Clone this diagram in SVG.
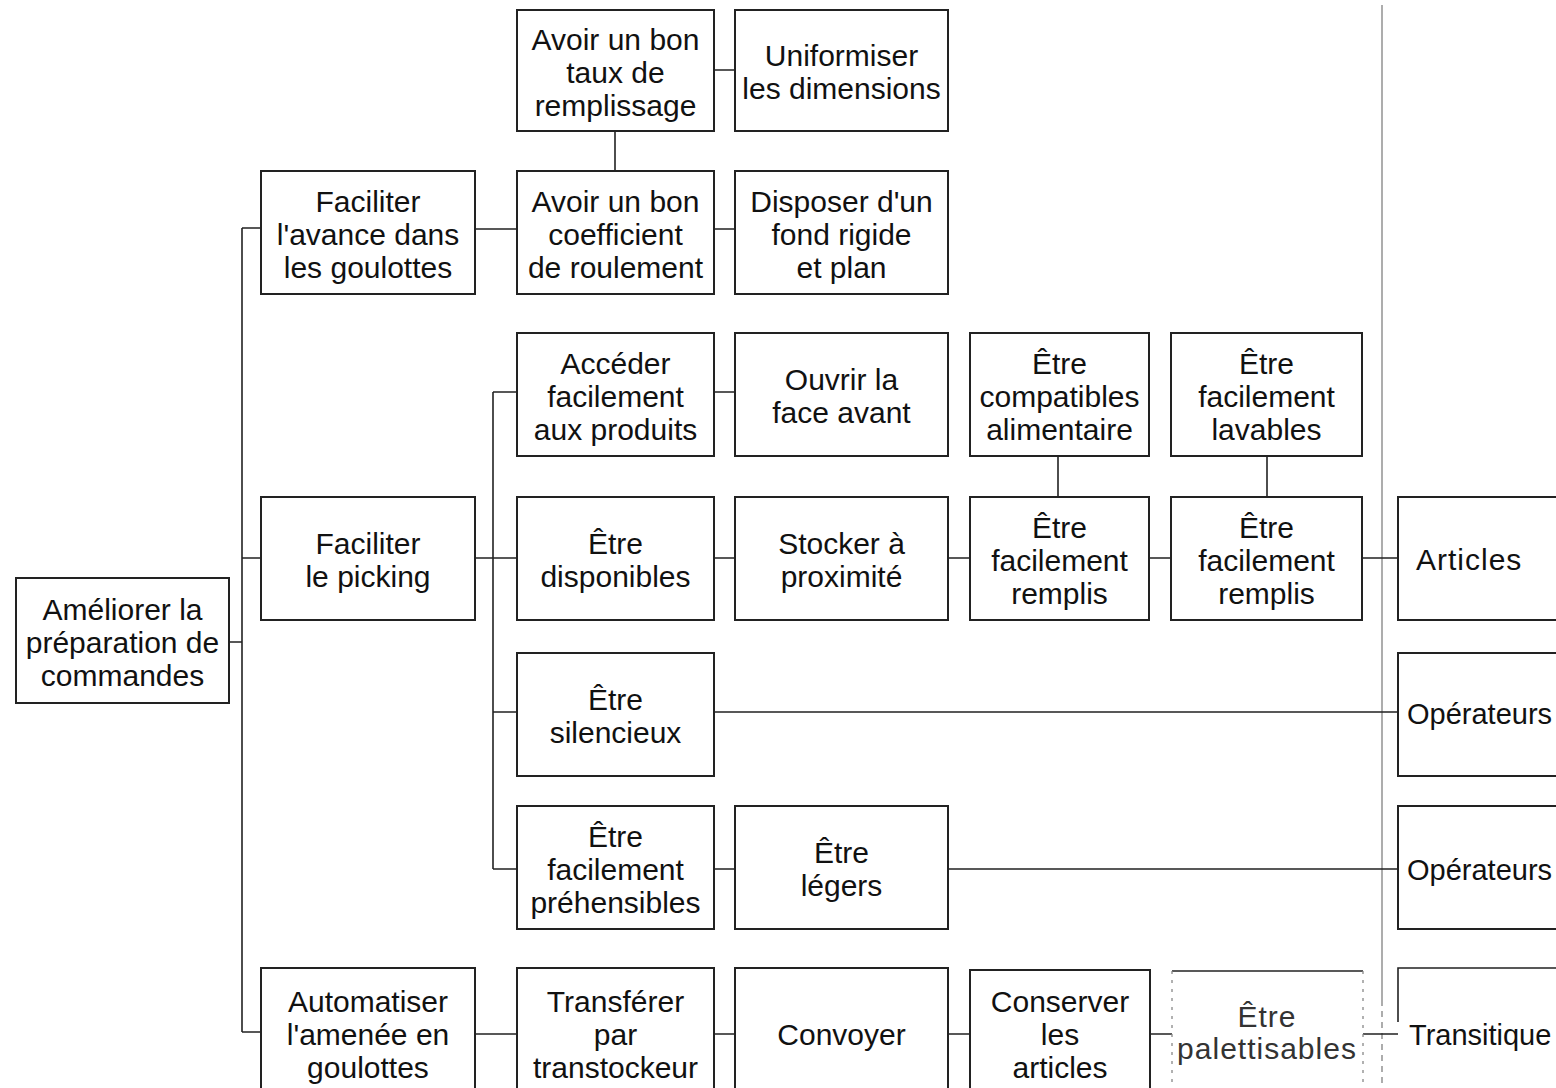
<svg xmlns="http://www.w3.org/2000/svg" width="1556" height="1088" viewBox="0 0 1556 1088">
<style>
  .box { fill: #fff; stroke: #222; stroke-width: 2; }
  .t { font-family: "Liberation Sans", Arial, sans-serif; font-size: 30px; fill: #111; text-anchor: middle; }
  .ts { font-family: "Liberation Sans", Arial, sans-serif; font-size: 30px; fill: #111; text-anchor: start; letter-spacing: 1px; }
  .tn { font-family: "Liberation Sans", Arial, sans-serif; font-size: 29px; fill: #111; text-anchor: start; }
  .c { fill: none; stroke: #222; stroke-width: 1.6; }
  .g { fill: none; stroke: #8a8a8a; stroke-width: 1.4; }
  .gd { fill: none; stroke: #8a8a8a; stroke-width: 1.4; stroke-dasharray: 6 5; }
  .dash { fill: none; stroke: #888; stroke-width: 1.3; stroke-dasharray: 3 6; }
</style>
<rect width="1556" height="1088" fill="#fff"/>

<g id="connectors">
  <path class="g" d="M1382 5 V1000"/>
  <path class="gd" d="M1382 1000 V1088"/>
  <path class="c" d="M229 642 H242 M242 228 V1032 M242 228 H261 M242 558 H261 M242 1032 H261"/>
  <path class="c" d="M475 229 H517 M615 131 V171 M714 70 H735 M714 229 H735"/>
  <path class="c" d="M475 558 H517 M493 392 V869 M493 392 H517 M493 712 H517 M493 869 H517"/>
  <path class="c" d="M714 392 H735 M714 558 H735 M948 558 H970 M1149 558 H1171 M1362 558 H1398"/>
  <path class="c" d="M1058 456 V497 M1267 456 V497"/>
  <path class="c" d="M715 712 H1398 M714 869 H735 M948 869 H1398"/>
  <path class="c" d="M475 1034 H517 M714 1034 H735 M948 1034 H970 M1150 1034 H1172 M1363 1034 H1398"/>
</g>

<g id="n0"><rect class="box" x="16" y="578" width="213" height="125"/>
  <text class="t" x="122.5"><tspan x="122.5" y="620">Améliorer la</tspan><tspan x="122.5" y="653">préparation de</tspan><tspan x="122.5" y="686">commandes</tspan></text></g>

<g id="n1"><rect class="box" x="261" y="171" width="214" height="123"/>
  <text class="t"><tspan x="368" y="211.5">Faciliter</tspan><tspan x="368" y="244.5">l'avance dans</tspan><tspan x="368" y="277.5">les goulottes</tspan></text></g>
<g id="n2"><rect class="box" x="261" y="497" width="214" height="123"/>
  <text class="t"><tspan x="368" y="554">Faciliter</tspan><tspan x="368" y="587">le picking</tspan></text></g>
<g id="n3"><rect class="box" x="261" y="968" width="214" height="128"/>
  <text class="t"><tspan x="368" y="1012">Automatiser</tspan><tspan x="368" y="1045">l'amenée en</tspan><tspan x="368" y="1078">goulottes</tspan></text></g>

<g id="n4"><rect class="box" x="517" y="10" width="197" height="121"/>
  <text class="t"><tspan x="615.5" y="50">Avoir un bon</tspan><tspan x="615.5" y="83">taux de</tspan><tspan x="615.5" y="116">remplissage</tspan></text></g>
<g id="n5"><rect class="box" x="517" y="171" width="197" height="123"/>
  <text class="t"><tspan x="615.5" y="211.5">Avoir un bon</tspan><tspan x="615.5" y="244.5">coefficient</tspan><tspan x="615.5" y="277.5">de roulement</tspan></text></g>
<g id="n6"><rect class="box" x="517" y="333" width="197" height="123"/>
  <text class="t"><tspan x="615.5" y="373.5">Accéder</tspan><tspan x="615.5" y="406.5">facilement</tspan><tspan x="615.5" y="439.5">aux produits</tspan></text></g>
<g id="n7"><rect class="box" x="517" y="497" width="197" height="123"/>
  <text class="t"><tspan x="615.5" y="554">Être</tspan><tspan x="615.5" y="587">disponibles</tspan></text></g>
<g id="n8"><rect class="box" x="517" y="653" width="197" height="123"/>
  <text class="t"><tspan x="615.5" y="710">Être</tspan><tspan x="615.5" y="743">silencieux</tspan></text></g>
<g id="n9"><rect class="box" x="517" y="806" width="197" height="123"/>
  <text class="t"><tspan x="615.5" y="846.5">Être</tspan><tspan x="615.5" y="879.5">facilement</tspan><tspan x="615.5" y="912.5">préhensibles</tspan></text></g>
<g id="n10"><rect class="box" x="517" y="968" width="197" height="128"/>
  <text class="t"><tspan x="615.5" y="1012">Transférer</tspan><tspan x="615.5" y="1045">par</tspan><tspan x="615.5" y="1078">transtockeur</tspan></text></g>

<g id="n11"><rect class="box" x="735" y="10" width="213" height="121"/>
  <text class="t"><tspan x="841.5" y="66">Uniformiser</tspan><tspan x="841.5" y="99">les dimensions</tspan></text></g>
<g id="n12"><rect class="box" x="735" y="171" width="213" height="123"/>
  <text class="t"><tspan x="841.5" y="211.5">Disposer d'un</tspan><tspan x="841.5" y="244.5">fond rigide</tspan><tspan x="841.5" y="277.5">et plan</tspan></text></g>
<g id="n13"><rect class="box" x="735" y="333" width="213" height="123"/>
  <text class="t"><tspan x="841.5" y="390">Ouvrir la</tspan><tspan x="841.5" y="423">face avant</tspan></text></g>
<g id="n14"><rect class="box" x="735" y="497" width="213" height="123"/>
  <text class="t"><tspan x="841.5" y="554">Stocker à</tspan><tspan x="841.5" y="587">proximité</tspan></text></g>
<g id="n15"><rect class="box" x="735" y="806" width="213" height="123"/>
  <text class="t"><tspan x="841.5" y="863">Être</tspan><tspan x="841.5" y="896">légers</tspan></text></g>
<g id="n16"><rect class="box" x="735" y="968" width="213" height="128"/>
  <text class="t"><tspan x="841.5" y="1045">Convoyer</tspan></text></g>

<g id="n17"><rect class="box" x="970" y="333" width="179" height="123"/>
  <text class="t"><tspan x="1059.5" y="373.5">Être</tspan><tspan x="1059.5" y="406.5">compatibles</tspan><tspan x="1059.5" y="439.5">alimentaire</tspan></text></g>
<g id="n18"><rect class="box" x="970" y="497" width="179" height="123"/>
  <text class="t"><tspan x="1059.5" y="537.5">Être</tspan><tspan x="1059.5" y="570.5">facilement</tspan><tspan x="1059.5" y="603.5">remplis</tspan></text></g>
<g id="n19"><rect class="box" x="970" y="970" width="180" height="126"/>
  <text class="t"><tspan x="1060" y="1012">Conserver</tspan><tspan x="1060" y="1045">les</tspan><tspan x="1060" y="1078">articles</tspan></text></g>

<g id="n20"><rect class="box" x="1171" y="333" width="191" height="123"/>
  <text class="t"><tspan x="1266.5" y="373.5">Être</tspan><tspan x="1266.5" y="406.5">facilement</tspan><tspan x="1266.5" y="439.5">lavables</tspan></text></g>
<g id="n21"><rect class="box" x="1171" y="497" width="191" height="123"/>
  <text class="t"><tspan x="1266.5" y="537.5">Être</tspan><tspan x="1266.5" y="570.5">facilement</tspan><tspan x="1266.5" y="603.5">remplis</tspan></text></g>
<g id="n22">
  <path class="c" d="M1172 971 H1363" stroke="#555"/>
  <path class="dash" d="M1172 971 V1088 M1363 971 V1088"/>
  <text class="t" style="letter-spacing:1px;fill:#333"><tspan x="1267" y="1027">Être</tspan><tspan x="1267" y="1059">palettisables</tspan></text></g>

<g id="n23"><rect class="box" x="1398" y="497" width="220" height="123"/>
  <text class="ts"><tspan x="1416" y="570">Articles</tspan></text></g>
<g id="n24"><rect class="box" x="1398" y="653" width="220" height="123"/>
  <text class="tn"><tspan x="1407" y="724">Opérateurs</tspan></text></g>
<g id="n25"><rect class="box" x="1398" y="806" width="220" height="123"/>
  <text class="tn"><tspan x="1407" y="880">Opérateurs</tspan></text></g>
<g id="n26">
  <path class="c" d="M1398 1022 V968 H1556" stroke-width="2"/>
  <text class="tn"><tspan x="1409" y="1045">Transitique</tspan></text></g>
</svg>
